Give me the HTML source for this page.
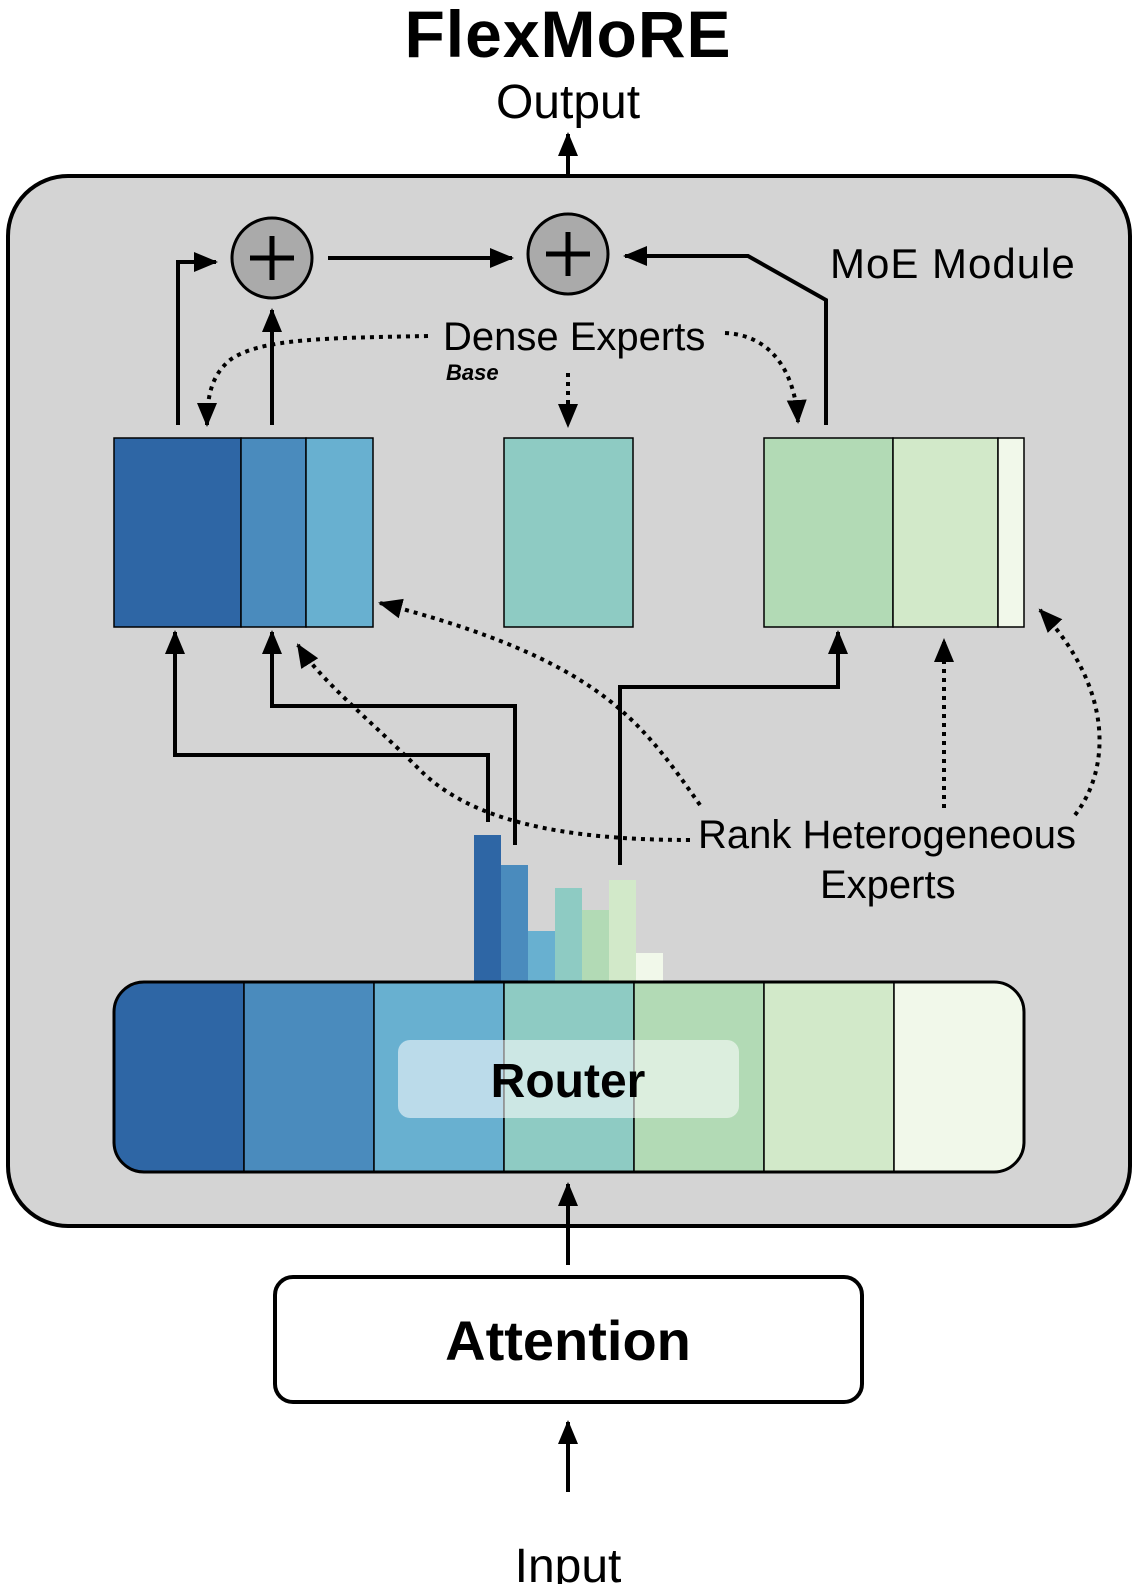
<!DOCTYPE html>
<html><head><meta charset="utf-8"><style>body{margin:0;background:#fff;overflow:hidden}svg{display:block}text{font-family:"Liberation Sans",sans-serif}</style></head><body>
<svg width="1148" height="1584" viewBox="0 0 1148 1584" xmlns="http://www.w3.org/2000/svg">
<defs>
<marker id="b" markerWidth="24" markerHeight="24" refX="22" refY="12" orient="auto" markerUnits="userSpaceOnUse" viewBox="0 0 24 24"><path d="M0,2 L24,12 L0,22 z"/></marker>
</defs>
<text x="568" y="57" font-size="66" font-weight="bold" text-anchor="middle" letter-spacing="1">FlexMoRE</text>
<text x="568" y="118" font-size="48" text-anchor="middle">Output</text>
<line x1="568" y1="200" x2="568" y2="134" stroke="#000" stroke-width="4" marker-end="url(#b)"/>
<rect x="8" y="176" width="1122" height="1050" rx="60" fill="#d4d4d4" stroke="#000" stroke-width="4"/>
<text x="830" y="278" font-size="42" letter-spacing="1">MoE Module</text>
<g stroke="#000" stroke-width="4" fill="none">
<polyline points="178,425 178,262 216,262" marker-end="url(#b)"/>
<line x1="272" y1="425" x2="272" y2="310" marker-end="url(#b)"/>
<line x1="328" y1="258" x2="512" y2="258" marker-end="url(#b)"/>
<polyline points="826,425 826,300 748,256 625,256" marker-end="url(#b)"/>
</g>
<g fill="#aaa" stroke="#000" stroke-width="3">
<circle cx="272" cy="258" r="40"/><circle cx="568" cy="254" r="40"/></g>
<g stroke="#000" stroke-width="5"><line x1="250" y1="258" x2="294" y2="258"/><line x1="272" y1="236" x2="272" y2="280"/>
<line x1="546" y1="254" x2="590" y2="254"/><line x1="568" y1="232" x2="568" y2="276"/></g>
<text x="443" y="350" font-size="40">Dense Experts</text>
<text x="446" y="380" font-size="22" font-weight="bold" font-style="italic">Base</text>
<g stroke="#000" stroke-width="4" stroke-dasharray="4,5" fill="none">
<path d="M428,336 C330,338 260,338 230,360 C212,375 207,395 207,425" marker-end="url(#b)"/>
<line x1="568" y1="373" x2="568" y2="426" marker-end="url(#b)"/>
<path d="M725,333 C770,335 795,370 798,422" marker-end="url(#b)"/>
<path d="M690,840 C560,840 470,820 420,770 C370,720 320,680 298,645" marker-end="url(#b)"/>
<path d="M700,805 C640,720 600,660 380,603" marker-end="url(#b)"/>
<line x1="944" y1="808" x2="944" y2="640" marker-end="url(#b)"/>
<path d="M1075,815 C1110,770 1115,690 1040,610" marker-end="url(#b)"/>
</g>
<g stroke="#000" stroke-width="1.5">
<rect x="114" y="438" width="127" height="189" fill="#2e66a5"/>
<rect x="241" y="438" width="65" height="189" fill="#4a8bbd"/>
<rect x="306" y="438" width="67" height="189" fill="#68b0d0"/>
<rect x="504" y="438" width="129" height="189" fill="#8ecbc3"/>
<rect x="764" y="438" width="129" height="189" fill="#b2dab5"/>
<rect x="893" y="438" width="105" height="189" fill="#d2e9c9"/>
<rect x="998" y="438" width="26" height="189" fill="#f1f8ea"/>
</g>
<g stroke="#000" stroke-width="4" fill="none">
<polyline points="488,822 488,755 175,755 175,632" marker-end="url(#b)"/>
<polyline points="515,845 515,706 272,706 272,632" marker-end="url(#b)"/>
<polyline points="620,865 620,687 838,687 838,632" marker-end="url(#b)"/>
</g>
<rect x="474" y="835" width="27" height="147" fill="#2e66a5"/>
<rect x="501" y="865" width="27" height="117" fill="#4a8bbd"/>
<rect x="528" y="931" width="27" height="51" fill="#68b0d0"/>
<rect x="555" y="888" width="27" height="94" fill="#8ecbc3"/>
<rect x="582" y="910" width="27" height="72" fill="#b2dab5"/>
<rect x="609" y="880" width="27" height="102" fill="#d2e9c9"/>
<rect x="636" y="953" width="27" height="29" fill="#f1f8ea"/>
<text x="698" y="848" font-size="40">Rank Heterogeneous</text>
<text x="820" y="898" font-size="40">Experts</text>
<clipPath id="r"><rect x="114" y="982" width="910" height="190" rx="30"/></clipPath>
<g clip-path="url(#r)" stroke="#000" stroke-width="1.5">
<rect x="114" y="982" width="130" height="190" fill="#2e66a5"/>
<rect x="244" y="982" width="130" height="190" fill="#4a8bbd"/>
<rect x="374" y="982" width="130" height="190" fill="#68b0d0"/>
<rect x="504" y="982" width="130" height="190" fill="#8ecbc3"/>
<rect x="634" y="982" width="130" height="190" fill="#b2dab5"/>
<rect x="764" y="982" width="130" height="190" fill="#d2e9c9"/>
<rect x="894" y="982" width="130" height="190" fill="#f1f8ea"/>
</g>
<rect x="114" y="982" width="910" height="190" rx="30" fill="none" stroke="#000" stroke-width="3"/>
<rect x="398" y="1040" width="341" height="78" rx="12" fill="#fff" fill-opacity="0.55"/>
<text x="568" y="1097" font-size="48" font-weight="bold" text-anchor="middle">Router</text>
<line x1="568" y1="1265" x2="568" y2="1184" stroke="#000" stroke-width="4" marker-end="url(#b)"/>
<rect x="275" y="1277" width="587" height="125" rx="18" fill="#fff" stroke="#000" stroke-width="4"/>
<text x="568" y="1360" font-size="56" font-weight="bold" text-anchor="middle">Attention</text>
<line x1="568" y1="1492" x2="568" y2="1422" stroke="#000" stroke-width="4" marker-end="url(#b)"/>
<text x="568" y="1582" font-size="48" text-anchor="middle">Input</text>
</svg>
</body></html>
